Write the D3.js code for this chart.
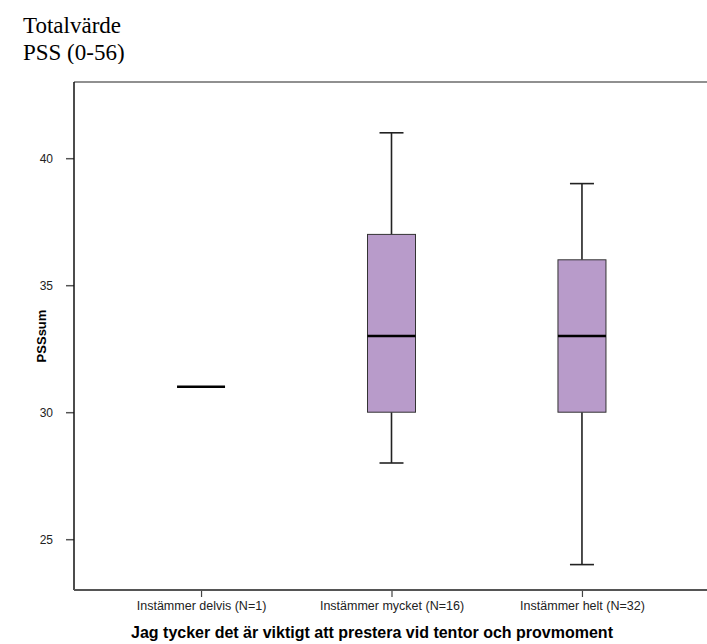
<!DOCTYPE html>
<html>
<head>
<meta charset="utf-8">
<script src="https://cdn.jsdelivr.net/npm/d3@7/dist/d3.min.js"></script>
<style>
html,body{margin:0;padding:0;background:#fff;}
svg{display:block;}
</style>
</head>
<body>
<svg id="chart" width="707" height="644"></svg>
<script>
const categories = ["Instämmer delvis (N=1)", "Instämmer mycket (N=16)", "Instämmer helt (N=32)"];
const whiskerLow  = [31, 28, 24];
const q1          = [31, 30, 30];
const median      = [31, 33, 33];
const q3          = [31, 37, 36];
const whiskerHigh = [31, 41, 39];
const yTicks = [25, 30, 35, 40];
const yLabel = "PSSsum";
const xLabel = "Jag tycker det är viktigt att prestera vid tentor och provmoment";
const titleLines = ["Totalvärde", "PSS (0-56)"];

(function () {
const svg = d3.select("#chart");
const pl = 74, pr = 709, pt = 82, pb = 590;

const x = d3.scalePoint().domain(categories).range([pl, pr]).padding(0.667);
const y = d3.scaleLinear().domain([23, 43]).range([pb, pt]);

// title (clipped at bottom like the reference)
svg.append("clipPath").attr("id", "tclip").append("rect")
  .attr("x", 0).attr("y", 0).attr("width", 300).attr("height", 64);
const tg = svg.append("g").attr("clip-path", "url(#tclip)");
titleLines.forEach((t, i) => {
  tg.append("text").attr("x", 23).attr("y", 33 + i * 27)
    .attr("font-family", "'Liberation Serif','Times New Roman',serif")
    .attr("font-size", 23).attr("fill", "#000").text(t);
});

// frame
svg.append("line").attr("x1", pl).attr("x2", pr).attr("y1", pt).attr("y2", pt)
  .attr("stroke", "#222").attr("stroke-width", 1.2);
svg.append("line").attr("x1", pr).attr("x2", pr).attr("y1", pt).attr("y2", pb)
  .attr("stroke", "#222").attr("stroke-width", 1.2);

// axes
const yAxis = svg.append("g").attr("transform", `translate(${pl},0)`)
  .call(d3.axisLeft(y).tickValues(yTicks).tickSize(8).tickPadding(13).tickFormat(d3.format("d")));
yAxis.select(".domain").remove();
yAxis.selectAll(".tick line").attr("stroke", "#555").attr("stroke-width", 1.5);
yAxis.selectAll(".tick text").attr("font-family", "'Liberation Sans',Arial,sans-serif")
  .attr("font-size", 12).attr("fill", "#222");
svg.append("line").attr("x1", pl).attr("x2", pl).attr("y1", pt).attr("y2", pb)
  .attr("stroke", "#111").attr("stroke-width", 1.5);

const xAxis = svg.append("g").attr("transform", `translate(0,${pb})`)
  .call(d3.axisBottom(x).tickSize(7).tickPadding(4));
xAxis.select(".domain").remove();
xAxis.selectAll(".tick line").attr("stroke", "#444").attr("stroke-width", 1.2);
xAxis.selectAll(".tick text").attr("font-family", "'Liberation Sans',Arial,sans-serif")
  .attr("font-size", 12.5).attr("fill", "#222");
svg.append("line").attr("x1", pl).attr("x2", pr).attr("y1", pb).attr("y2", pb)
  .attr("stroke", "#555").attr("stroke-width", 2);

// axis titles
svg.append("text").attr("transform", `translate(46,${(pt + pb) / 2}) rotate(-90)`)
  .attr("text-anchor", "middle").attr("font-family", "'Liberation Sans',Arial,sans-serif")
  .attr("font-weight", "bold").attr("font-size", 13).attr("fill", "#000").text(yLabel);
svg.append("text").attr("x", 372).attr("y", 638)
  .attr("text-anchor", "middle").attr("font-family", "'Liberation Sans',Arial,sans-serif")
  .attr("font-weight", "bold").attr("font-size", 16).attr("fill", "#000").text(xLabel);

// boxes
const boxW = 48, capW = 24;
const data = categories.map((c, i) => ({c, lo: whiskerLow[i], q1: q1[i], med: median[i], q3: q3[i], hi: whiskerHigh[i]}));
const g = svg.append("g");
data.forEach(d => {
  const cx = x(d.c);
  if (d.hi > d.q3) {
    g.append("line").attr("x1", cx).attr("x2", cx).attr("y1", y(d.q3)).attr("y2", y(d.hi)).attr("stroke", "#222").attr("stroke-width", 1.6);
    g.append("line").attr("x1", cx - capW / 2).attr("x2", cx + capW / 2).attr("y1", y(d.hi)).attr("y2", y(d.hi)).attr("stroke", "#222").attr("stroke-width", 1.6);
  }
  if (d.lo < d.q1) {
    g.append("line").attr("x1", cx).attr("x2", cx).attr("y1", y(d.q1)).attr("y2", y(d.lo)).attr("stroke", "#222").attr("stroke-width", 1.6);
    g.append("line").attr("x1", cx - capW / 2).attr("x2", cx + capW / 2).attr("y1", y(d.lo)).attr("y2", y(d.lo)).attr("stroke", "#222").attr("stroke-width", 1.6);
  }
  if (d.q3 > d.q1) {
    g.append("rect").attr("x", cx - boxW / 2).attr("y", y(d.q3)).attr("width", boxW).attr("height", y(d.q1) - y(d.q3))
      .attr("fill", "#b89bca").attr("stroke", "#333").attr("stroke-width", 1);
  }
  g.append("line").attr("x1", cx - boxW / 2).attr("x2", cx + boxW / 2).attr("y1", y(d.med)).attr("y2", y(d.med))
    .attr("stroke", "#000").attr("stroke-width", 2.5);
});
})();
</script>
</body>
</html>
